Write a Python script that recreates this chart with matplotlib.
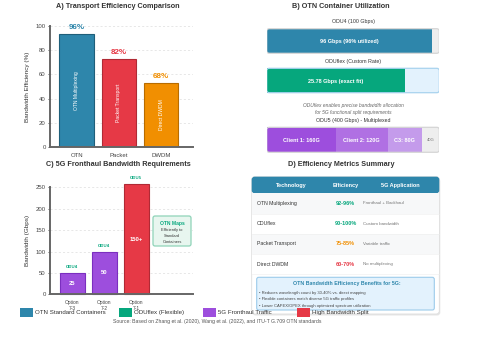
import matplotlib
matplotlib.use("Agg")
import matplotlib.pyplot as plt
from matplotlib.patches import FancyBboxPatch, Rectangle

plt.rcParams['font.family'] = ['Liberation Sans', 'DejaVu Sans']

W, H = 497, 341
fig = plt.figure(figsize=(W / 100, H / 100), dpi=100)
fig.patch.set_facecolor('white')

BLUE = '#2E86AB'
GREEN = '#06A77D'
PURPLE = '#9D4EDD'
RED = '#E63946'
ORANGE = '#F18F01'
DARK = '#333333'
GRAY = '#666666'

# ---------------- data ----------------
eff_tech = ['OTN', 'Packet', 'DWDM']
eff_values = [93, 73, 53]
eff_labels = ['96%', '82%', '68%']
eff_inner = ['OTN Multiplexing', 'Packet Transport', 'Direct DWDM']
eff_colors = [BLUE, RED, ORANGE]
eff_edges = ['#1F5F7A', '#B02A35', '#B86C00']

fh_options = ['Option\n7-3', 'Option\n7-2', 'Option\n7-1']
fh_values = [50, 100, 258]
fh_labels = ['25', '50', '150+']
fh_odu = ['ODU4', 'ODU4', 'ODU5']
fh_colors = [PURPLE, PURPLE, RED]

odu4_used = 96
odu4_capacity = 100
oduflex_fill = 80
odu5_capacity = 400
odu5_clients = [160, 120, 80, 40]
odu5_labels = ['Client 1: 160G', 'Client 2: 120G', 'C3: 80G', '40G']
odu5_colors = ['#9D4EDD', '#B070E3', '#C49BEB', '#EEEEEE']

table_header = ['Technology', 'Efficiency', '5G Application']
table_tech = ['OTN Multiplexing', 'ODUflex', 'Packet Transport', 'Direct DWDM']
table_eff = ['92-96%', '90-100%', '75-85%', '60-70%']
table_eff_colors = [GREEN, GREEN, ORANGE, RED]
table_app = ['Fronthaul + Backhaul', 'Custom bandwidth', 'Variable traffic', 'No multiplexing']

benefits_title = 'OTN Bandwidth Efficiency Benefits for 5G:'
benefits = ['• Reduces wavelength count by 30-40% vs. direct mapping',
            '• Flexible containers match diverse 5G traffic profiles',
            '• Lower CAPEX/OPEX through optimized spectrum utilization']

legend_labels = ['OTN Standard Containers', 'ODUflex (Flexible)', '5G Fronthaul Traffic', 'High Bandwidth Split']
legend_colors = [BLUE, GREEN, PURPLE, RED]

TITLE_FS = 5.2


def axes_px(l, t, r, b, **kw):
    return fig.add_axes([l / W, 1 - b / H, (r - l) / W, (b - t) / H], **kw)


def style_axes(ax):
    for s in ['top', 'right']:
        ax.spines[s].set_visible(False)
    for s in ['left', 'bottom']:
        ax.spines[s].set_color('#666666')
        ax.spines[s].set_linewidth(1.4)
    ax.tick_params(axis='both', labelsize=4.3, colors='#444444', length=1.5, width=0.6, pad=1.5)
    ax.grid(axis='y', linestyle=(0, (3, 3)), color='#dddddd', linewidth=0.5)
    ax.set_axisbelow(True)


# ---------------- Panel A ----------------
fig.text(118 / W, 1 - 7 / H, 'A) Transport Efficiency Comparison', ha='center', va='center',
         fontsize=TITLE_FS, fontweight='bold', color=DARK)
axA = axes_px(50, 26, 193, 147)
xA = range(len(eff_tech))
axA.bar(xA, eff_values, width=0.83, color=eff_colors, edgecolor=eff_edges, linewidth=0.8)
axA.set_xlim(-0.64, 2.76)
axA.set_ylim(0, 100)
axA.set_yticks(range(0, 101, 20))
axA.set_xticks(list(xA))
axA.set_xticklabels(eff_tech)
style_axes(axA)
axA.tick_params(axis='x', length=0, pad=4)
axA.set_ylabel('Bandwidth Efficiency (%)', fontsize=4.6, color=DARK, labelpad=4)
for i, v in enumerate(eff_values):
    axA.text(i, v + 2.5, eff_labels[i], ha='center', va='bottom', fontsize=5.8,
             fontweight='bold', color=eff_colors[i])
    axA.text(i, v / 2, eff_inner[i], ha='center', va='center', rotation=90,
             fontsize=3.6, color='white')

# ---------------- Panel C ----------------
fig.text(118 / W, 1 - 164.5 / H, 'C) 5G Fronthaul Bandwidth Requirements', ha='center', va='center',
         fontsize=TITLE_FS, fontweight='bold', color=DARK)
axC = axes_px(50, 187.3, 193, 294.3)
xC = range(len(fh_options))
axC.bar(xC, fh_values, width=0.78, color=fh_colors, edgecolor=['#7B2FBF', '#7B2FBF', '#B02A35'],
        linewidth=0.8, clip_on=False)
axC.set_xlim(-0.69, 3.78)
axC.set_ylim(0, 250)
axC.set_yticks(range(0, 251, 50))
axC.set_xticks(list(xC))
axC.set_xticklabels(fh_options, fontsize=3.5, linespacing=1.3)
style_axes(axC)
axC.tick_params(axis='x', length=0, pad=4, labelsize=3.5)
axC.set_ylabel('Bandwidth (Gbps)', fontsize=4.6, color=DARK, labelpad=4)
for i, v in enumerate(fh_values):
    axC.text(i, v + 9, fh_odu[i], ha='center', va='bottom', fontsize=3.2,
             fontweight='bold', color=GREEN, clip_on=False)
    axC.text(i, v / 2, fh_labels[i], ha='center', va='center', fontsize=4.2,
             fontweight='bold', color='white')

# ---------------- Panel B ----------------
fig.text(341 / W, 1 - 6.5 / H, 'B) OTN Container Utilization', ha='center', va='center',
         fontsize=TITLE_FS, fontweight='bold', color=DARK)
axB = axes_px(266.7, 0, 439.3, 160)
axB.set_xlim(0, 100)
axB.set_ylim(160, 0)
axB.axis('off')

# ODU4
y1, h1 = 41, 24.6
u = odu4_used / odu4_capacity * 100
axB.barh(y1, u, left=0, height=h1, color=BLUE)
axB.barh(y1, 100 - u, left=u, height=h1, color='#EEEEEE')
axB.add_patch(FancyBboxPatch((0, y1 - h1 / 2), 100, h1, boxstyle='round,pad=0,rounding_size=1.5',
                             fill=False, edgecolor='#D5D5D5', linewidth=0.9, mutation_aspect=1.6))
axB.text(50, 22, 'ODU4 (100 Gbps)', ha='center', va='center', fontsize=3.8, color=DARK)
axB.text(u / 2, y1 + 0.5, f'{odu4_used} Gbps ({odu4_used}% utilized)', ha='center', va='center',
         fontsize=4.0, fontweight='bold', color='white')

# ODUflex
y2, h2 = 80.5, 24.4
axB.barh(y2, oduflex_fill, left=0, height=h2, color=GREEN)
axB.barh(y2, 100 - oduflex_fill, left=oduflex_fill, height=h2, color='#E3F2FD')
axB.add_patch(FancyBboxPatch((0, y2 - h2 / 2), 100, h2, boxstyle='round,pad=0,rounding_size=1.5',
                             fill=False, edgecolor='#A9D3EE', linewidth=0.9, mutation_aspect=1.6))
axB.text(50, 61.7, 'ODUflex (Custom Rate)', ha='center', va='center', fontsize=3.8, color=DARK)
axB.text(oduflex_fill / 2, y2 + 0.5, '25.78 Gbps (exact fit)', ha='center', va='center',
         fontsize=4.0, fontweight='bold', color='white')

axB.text(50, 105.3, 'ODUflex enables precise bandwidth allocation', ha='center', va='center',
         fontsize=3.5, style='italic', color=GRAY)
axB.text(50, 112.7, 'for 5G functional split requirements', ha='center', va='center',
         fontsize=3.5, style='italic', color=GRAY)
axB.text(50, 120.7, 'ODU5 (400 Gbps) - Multiplexed', ha='center', va='center', fontsize=3.8, color=DARK)

# ODU5 multiplexed
y3, h3 = 139.8, 25
left = 0
for c, lab, col in zip(odu5_clients, odu5_labels, odu5_colors):
    w = c / odu5_capacity * 100
    axB.barh(y3, w, left=left, height=h3, color=col)
    last = (col == '#EEEEEE')
    axB.text(left + w / 2, y3 + 0.5, lab, ha='center', va='center',
             fontsize=3.0 if last else 4.0, fontweight='normal' if last else 'bold',
             color='#777777' if last else 'white')
    left += w
axB.add_patch(FancyBboxPatch((0, y3 - h3 / 2), 100, h3, boxstyle='round,pad=0,rounding_size=1.5',
                             fill=False, edgecolor='#D5D5D5', linewidth=0.9, mutation_aspect=1.6))

# ---------------- overlay for Panel D, annotation box, legend ----------------
ov = fig.add_axes([0, 0, 1, 1])
ov.set_xlim(0, W)
ov.set_ylim(H, 0)
ov.axis('off')
ov.patch.set_alpha(0)

# Panel C annotation box
ov.add_patch(FancyBboxPatch((153, 216), 38, 30, boxstyle='round,pad=0,rounding_size=2',
                            facecolor='#E8F6EF', edgecolor='#8FD3B8', linewidth=0.9))
ov.text(172, 223, 'OTN Maps', ha='center', va='center', fontsize=3.6, fontweight='bold', color=GREEN)
ov.text(172, 230, 'Efficiently to', ha='center', va='center', fontsize=2.9, color=DARK)
ov.text(172, 236, 'Standard', ha='center', va='center', fontsize=2.9, color=DARK)
ov.text(172, 242, 'Containers', ha='center', va='center', fontsize=2.9, color=DARK)

# Panel D
ov.text(341, 164.5, 'D) Efficiency Metrics Summary', ha='center', va='center',
        fontsize=TITLE_FS, fontweight='bold', color=DARK)
tx0, tx1, ty0, ty1 = 251.7, 439.3, 176.7, 314
ov.add_patch(FancyBboxPatch((tx0 + 1, ty0 + 1.5), tx1 - tx0, ty1 - ty0, boxstyle='round,pad=0,rounding_size=3',
                            facecolor='#E6E6E6', edgecolor='none', zorder=1))
ov.add_patch(FancyBboxPatch((tx0, ty0), tx1 - tx0, ty1 - ty0, boxstyle='round,pad=0,rounding_size=3',
                            facecolor='white', edgecolor='#DDDDDD', linewidth=0.6, zorder=2))
ov.add_patch(FancyBboxPatch((tx0, ty0), tx1 - tx0, 16.6, boxstyle='round,pad=0,rounding_size=3',
                            facecolor=BLUE, edgecolor='none', zorder=3))
col_x = [291.7, 345.7, 400]
for cx, htxt in zip(col_x, table_header):
    ov.text(cx, 185.5, htxt, ha='center', va='center', fontsize=4.0, fontweight='bold',
            color='white', zorder=5)
row_top = 193.3
row_h = 20.2
for i in range(len(table_tech)):
    top = row_top + i * row_h
    ov.add_patch(Rectangle((tx0 + 0.5, top), tx1 - tx0 - 1, row_h,
                           facecolor='#F7F8F9' if i % 2 == 0 else 'white',
                           edgecolor='none', zorder=3))
    ov.plot([tx0 + 0.5, tx1 - 0.5], [top + row_h, top + row_h], color='#EEEEEE', lw=0.4, zorder=4)
    cy = top + row_h / 2
    ov.text(256.7, cy, table_tech[i], ha='left', va='center', fontsize=3.7, color=DARK, zorder=5)
    ov.text(col_x[1], cy, table_eff[i], ha='center', va='center', fontsize=4.0, fontweight='bold',
            color=table_eff_colors[i], zorder=5)
    ov.text(362.7, cy, table_app[i], ha='left', va='center', fontsize=3.2, color='#777777', zorder=5)

ov.add_patch(FancyBboxPatch((256.7, 277.3), 177.6, 32.7, boxstyle='round,pad=0,rounding_size=2',
                            facecolor='#E3F2FD', edgecolor='#9CCBEB', linewidth=0.8, zorder=5))
ov.text(346.7, 284, benefits_title, ha='center', va='center', fontsize=3.8, fontweight='bold',
        color=BLUE, zorder=6)
for k, btxt in enumerate(benefits):
    ov.text(259.3, 292.7 + k * 6.7, btxt, ha='left', va='center', fontsize=3.0, color='#444444', zorder=6)

# Legend
leg_x = [20, 119, 203, 297]
for lx, lab, col in zip(leg_x, legend_labels, legend_colors):
    ov.add_patch(Rectangle((lx, 308), 12.5, 8.5, facecolor=col, edgecolor='none', zorder=8))
    ov.text(lx + 15, 312.5, lab, ha='left', va='center', fontsize=4.4, color=DARK, zorder=8)

ov.text(217.5, 321.7, 'Source: Based on Zhang et al. (2020), Wang et al. (2022), and ITU-T G.709 OTN standards',
        ha='center', va='center', fontsize=3.7, color='#555555', zorder=8)

fig.savefig('out.png', dpi=100, facecolor='white')
